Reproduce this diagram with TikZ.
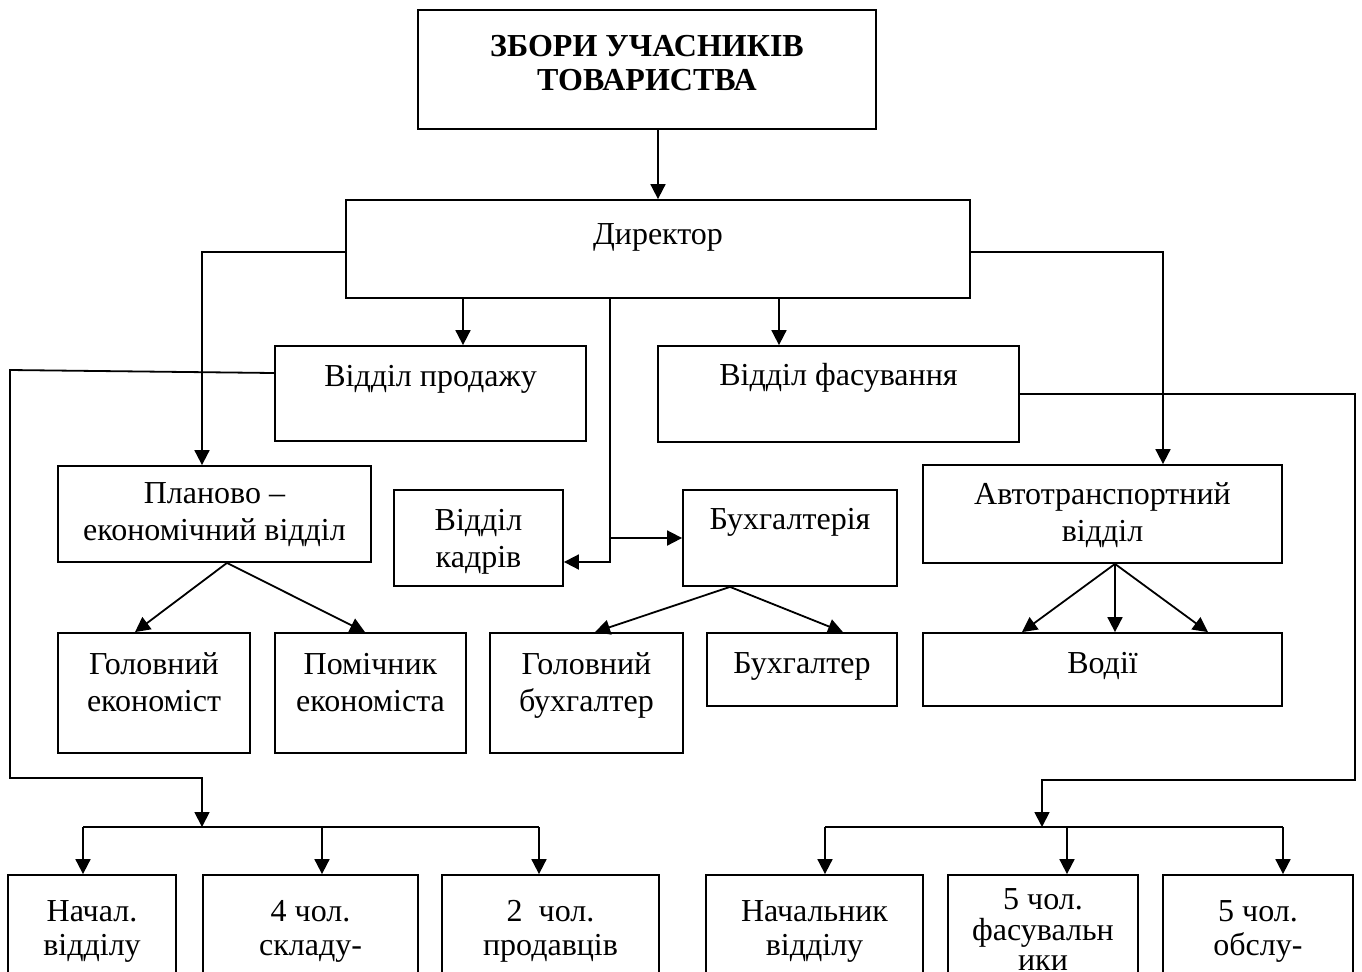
\documentclass[tikz,border=0pt]{standalone}
\usepackage{fontspec}
\setmainfont{Liberation Serif}
\usetikzlibrary{arrows.meta}
\newcommand{\nodelines}[1]{\begin{tabular}[t]{@{}c@{}}#1\end{tabular}}

\begin{document}
\begin{tikzpicture}[x=0.5pt, y=-0.5pt,
    box/.style={draw, line width=0.9pt, inner sep=0pt, font=\fontsize{16}{18.5}\selectfont},
    lowbox/.style={box, text height=23pt, text depth=32pt, font=\fontsize{16}{17}\selectfont},
    arr/.style={line width=0.9pt, -{Triangle[length=7.5pt,width=7.5pt]}},
    link/.style={line width=0.9pt}]
    \useasboundingbox (0,0) rectangle (1362,971);
    \clip (0,0) rectangle (1362,971);

    % Top levels
    \node[box, minimum width=229pt, text height=23pt, text depth=36.5pt, font=\bfseries\fontsize{16}{17}\selectfont] (zbory) at (647,69.5) {\nodelines{ЗБОРИ УЧАСНИКІВ\\ТОВАРИСТВА}};
    \node[box, minimum width=312pt, text height=22pt, text depth=27pt] (dir) at (658,249) {Директор};

    % Departments
    \node[box, minimum width=155.5pt, text height=20pt, text depth=27.5pt] (prod) at (430.5,393.5) {Відділ продажу};
    \node[box, minimum width=180.5pt, text height=19.5pt, text depth=28.5pt] (fas) at (838.5,394) {Відділ фасування};
    \node[box, minimum width=156.5pt, text height=18.5pt, text depth=29.5pt] (plan) at (214.5,514) {\nodelines{Планово –\\економічний відділ}};
    \node[box, minimum width=84.5pt, text height=20pt, text depth=28pt] (kadr) at (478.5,538) {\nodelines{Відділ\\кадрів}};
    \node[box, minimum width=107pt, text height=19.5pt, text depth=28.5pt] (buh) at (790,538) {Бухгалтерія};
    \node[box, minimum width=179.5pt, text height=19.5pt, text depth=29.5pt] (avto) at (1102.5,514) {\nodelines{Автотранспортний\\відділ}};

    % Staff
    \node[box, minimum width=96pt, text height=20.5pt, text depth=39.5pt] (golek) at (154,693) {\nodelines{Головний\\економіст}};
    \node[box, minimum width=95.5pt, text height=20.5pt, text depth=39.5pt] (pomek) at (370.5,693) {\nodelines{Помічник\\економіста}};
    \node[box, minimum width=96.5pt, text height=20.5pt, text depth=39.5pt] (golbuh) at (586.5,693) {\nodelines{Головний\\бухгалтер}};
    \node[box, minimum width=95pt, text height=20pt, text depth=16.5pt] (buhg) at (802,669.5) {Бухгалтер};
    \node[box, minimum width=179.5pt, text height=20pt, text depth=16.5pt] (vodii) at (1102.5,669.5) {Водії};

    % Bottom row
    \node[lowbox, minimum width=84pt] (nach1) at (92,930) {\nodelines{Начал.\\відділу}};
    \node[lowbox, minimum width=107.5pt] (sklad) at (310.5,930) {\nodelines{4 чол.\\складу-}};
    \node[lowbox, minimum width=108.5pt] (prodav) at (550.5,930) {\nodelines{2~~чол.\\продавців}};
    \node[lowbox, minimum width=108.5pt] (nach2) at (814.5,930) {\nodelines{Начальник\\відділу}};
    \node[lowbox, minimum width=95pt, text height=17pt, text depth=38pt, font=\fontsize{16}{15}\selectfont] (fasuv) at (1043,930) {\nodelines{5 чол.\\фасувальн\\ики}};
    \node[lowbox, minimum width=95pt] (obslu) at (1258,930) {\nodelines{5 чол.\\обслу-}};

    % Director links
    \draw[arr] (zbory.south -| dir.north) -- (dir.north);
    \draw[arr] ([yshift=-1.5pt]dir.west) -| ([xshift=-6.25pt]plan.north);
    \draw[arr] ([yshift=-1.5pt]dir.east) -| ([xshift=30.25pt]avto.north);
    \coordinate (pr) at ([xshift=16.25pt]prod.north);
    \coordinate (fs) at ([xshift=-29.75pt]fas.north);
    \draw[arr] (pr |- dir.south) -- (pr);
    \draw[arr] (fs |- dir.south) -- (fs);
    \coordinate (dk) at ([xshift=-24pt]dir.south);
    \draw[arr] (dk) |- ([yshift=-12pt]kadr.east);
    \draw[arr] (dk |- buh.west) -- (buh.west);

    % Fan-outs
    \coordinate (pl) at ([xshift=6.25pt]plan.south);
    \draw[arr] (pl) -- ([xshift=-9.5pt]golek.north);
    \draw[arr] (pl) -- ([xshift=-2.75pt]pomek.north);
    \coordinate (bh) at ([xshift=-30pt]buh.south);
    \draw[arr] (bh) -- ([xshift=4.25pt]golbuh.north);
    \draw[arr] (bh) -- ([xshift=20.5pt]buhg.north);
    \coordinate (av) at ([xshift=6.25pt]avto.south);
    \draw[arr] (av) -- ([xshift=-40.25pt]vodii.north);
    \draw[arr] (av) -- ([xshift=6.25pt]vodii.north);
    \draw[arr] (av) -- ([xshift=52.75pt]vodii.north);

    % Sales branch, left edge
    \coordinate (ls1) at (10,370);
    \coordinate (ls2) at (10,778);
    \coordinate (ls3) at (202,778);
    \coordinate (lbus) at (202,827);
    \draw[arr] ([yshift=10.25pt]prod.west) -- (ls1) -- (ls2) -- (ls3) -- (lbus);
    \coordinate (n1) at ([xshift=-4.5pt]nach1.north);
    \coordinate (s1) at ([xshift=5.75pt]sklad.north);
    \coordinate (p1) at ([xshift=-5.75pt]prodav.north);
    \draw[link] (n1 |- lbus) -- (p1 |- lbus);
    \foreach \nd in {n1,s1,p1} \draw[arr] (\nd |- lbus) -- (\nd);

    % Packing branch, right edge
    \coordinate (rs1) at (1355,394);
    \coordinate (rs2) at (1355,780);
    \coordinate (rs3) at (1042,780);
    \coordinate (rbus) at (1042,827);
    \draw[arr] (fas.east) -- (rs1) -- (rs2) -- (rs3) -- (rbus);
    \coordinate (n2) at ([xshift=5.25pt]nach2.north);
    \coordinate (f2) at ([xshift=12pt]fasuv.north);
    \coordinate (o2) at ([xshift=12.5pt]obslu.north);
    \draw[link] (n2 |- rbus) -- (o2 |- rbus);
    \foreach \nd in {n2,f2,o2} \draw[arr] (\nd |- rbus) -- (\nd);
\end{tikzpicture}
\end{document}
